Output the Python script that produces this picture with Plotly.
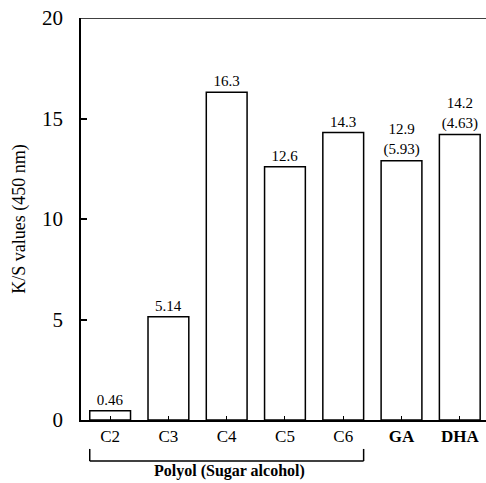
import plotly.graph_objects as go

categories = ["C2", "C3", "C4", "C5", "C6", "GA", "DHA"]
tick_labels = ["C2", "C3", "C4", "C5", "C6", "<b>GA</b>", "<b>DHA</b>"]
values = [0.46, 5.14, 16.3, 12.6, 14.3, 12.9, 14.2]
bar_labels = ["0.46", "5.14", "16.3", "12.6", "14.3", "12.9<br>(5.93)", "14.2<br>(4.63)"]
y_ticks = [0, 5, 10, 15, 20]
group_label = "<b>Polyol (Sugar alcohol)</b>"
group_span = ["C2", "C6"]

FONT = "Liberation Serif, Times New Roman, serif"

fig = go.Figure()
fig.add_trace(go.Bar(
    x=list(range(len(categories))),
    y=values,
    width=0.7,
    marker=dict(color="white", line=dict(color="black", width=1.5)),
    text=bar_labels,
    textposition="outside",
    textfont=dict(family=FONT, size=15, color="black"),
    cliponaxis=False,
))

W = 486
H = 483
fig.update_layout(
    width=W, height=H,
    margin=dict(l=81, r=0, t=18, b=63),
    paper_bgcolor="white", plot_bgcolor="white",
    showlegend=False,
    font=dict(family=FONT, color="black"),
    xaxis=dict(
        range=[-0.5, 6.45],
        tickmode="array",
        tickvals=list(range(len(categories))),
        ticktext=tick_labels,
        tickfont=dict(size=17, family=FONT),
        showline=True, linecolor="black", linewidth=1.5,
        ticks="inside", ticklen=4, tickwidth=1, tickcolor="black",
        tickson="boundaries",
        showgrid=False, zeroline=False,
        ticklabelstandoff=0,
        automargin=False,
    ),
    yaxis=dict(
        range=[0, 20],
        tickvals=y_ticks,
        tickfont=dict(size=21, family=FONT),
        showline=True, linecolor="black", linewidth=1.5,
        ticks="inside", ticklen=6, tickwidth=1.5, tickcolor="black",
        showgrid=False, zeroline=False,
        ticklabelstandoff=12,
        automargin=False,
        title=dict(text="K/S values (450 nm)", font=dict(size=18, family=FONT), standoff=12),
    ),
)

# top border line
fig.add_shape(type="line", xref="paper", yref="y", x0=0, x1=1, y0=20, y1=20,
              line=dict(color="black", width=1.5))

# bracket under polyol group
i0 = categories.index(group_span[0])
i1 = categories.index(group_span[1])
xl = i0 - 0.35
xr = i1 + 0.35
yt = -0.072
yb = -0.102
for x0, y0, x1, y1 in [(xl, yt, xl, yb), (xl, yb, xr, yb), (xr, yb, xr, yt)]:
    fig.add_shape(type="line", xref="x", yref="paper", x0=x0, x1=x1, y0=y0, y1=y1,
                  line=dict(color="black", width=1.5))
fig.add_annotation(xref="x", yref="paper", x=(xl + xr) / 2 + 0.05, y=-0.154,
                   yanchor="bottom",
                   text=group_label, showarrow=False,
                   font=dict(size=16, family=FONT, color="black"))

fig.write_html(
    "out.html",
    config={"displayModeBar": False},
    post_script="document.body.style.margin='0';document.body.style.overflow='hidden';",
)
